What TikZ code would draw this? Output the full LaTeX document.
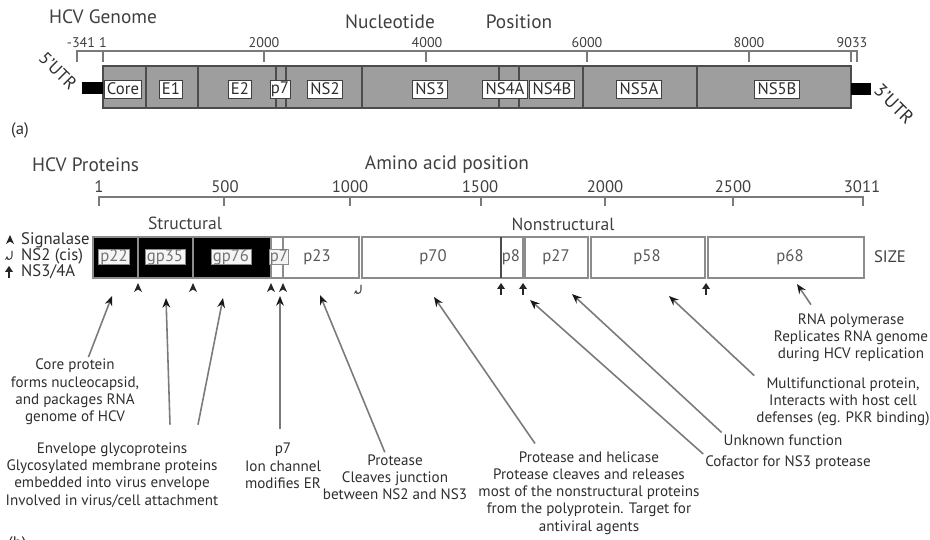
\documentclass[tikz,border=0pt]{standalone}
\usepackage{fontspec}
\setmainfont{PT Sans}
\usetikzlibrary{arrows.meta,calc}

\definecolor{bargray}{HTML}{9E9E9E}
\definecolor{inkgray}{HTML}{2E2E2E}
\definecolor{linegray}{HTML}{7A7A7A}

\begin{document}
\begin{tikzpicture}[x=0.02cm,y=-0.02cm,
    font=\fontsize{8.6}{9.8}\selectfont,text=inkgray,
    >={Stealth[length=5.5pt,width=4.4pt,color=black!90]},
    ptitle/.style={font=\fontsize{11}{13}\selectfont,text=black!75},
    subtitle/.style={font=\fontsize{10}{12}\selectfont,text=black!75},
    tickl/.style={font=\fontsize{8}{9}\selectfont,text=black!75},
    aatick/.style={font=\fontsize{9.5}{11}\selectfont,text=black!75},
    segname/.style={draw=black!75,fill=white,line width=0.5pt,inner xsep=1.5pt,
        inner ysep=0pt,minimum height=0.36cm,font=\fontsize{9.5}{11}\selectfont},
    protname/.style={draw=black!45,fill=black!4,text=black!55,inner xsep=1pt,
        inner ysep=0pt,minimum height=0.3cm,font=\fontsize{9.5}{11}\selectfont},
    plabel/.style={text=black!65,font=\fontsize{9.5}{11}\selectfont},
    structbox/.style={fill=black,draw=black!45,line width=0.7pt},
    nsbox/.style={fill=white,draw=black!45,line width=1pt},
    note/.style={align=center,inner sep=1pt},
    pointer/.style={->,draw=linegray,line width=0.9pt},
    sigmark/.pic={\fill[black!85] (0,-5) -- (4,4) -- (0,1.5) -- (-4,4) -- cycle;},
    ns3mark/.pic={\fill[black!85] (0,-6) -- (4,0) -- (-4,0) -- cycle;
        \draw[black!85,line width=1.1pt] (0,-1) -- (0,6);},
    cismark/.pic={\draw[black!70,line width=0.6pt,-{Stealth[length=2.2pt,width=2.4pt]}]
        (2,-5) -- (2,0) .. controls (2,4) and (-3,4) .. (-3,0);}]
    \useasboundingbox (0,0) rectangle (930,540);

    % Genome panel, titles and nucleotide scale.
    \node[ptitle,anchor=west] (gtitle) at (43,17) {HCV Genome};
    \node[ptitle] (gnuc) at (390,22) {Nucleotide};
    \node[ptitle] (gpos) at (519,22) {Position};
    \draw[linegray,line width=0.8pt] (77,62) -- (77,51) -- (857,51) -- (857,62);
    \draw[linegray,line width=0.8pt] (103,51) -- (103,62);
    \draw[linegray,line width=0.8pt] (264,51) -- (264,62);
    \draw[linegray,line width=0.8pt] (426,51) -- (426,62);
    \draw[linegray,line width=0.8pt] (587,51) -- (587,62);
    \draw[linegray,line width=0.8pt] (749,51) -- (749,62);
    \draw[linegray,line width=0.8pt] (851,51) -- (851,62);
    \node[tickl] (gt0) at (81,43) {-341};
    \node[tickl] (gt1) at (103,43) {1};
    \node[tickl] (gt2) at (264,43) {2000};
    \node[tickl] (gt4) at (427,43) {4000};
    \node[tickl] (gt6) at (587,43) {6000};
    \node[tickl] (gt8) at (749,43) {8000};
    \node[tickl] (gt9) at (852,43) {9033};

    % Genome bar with its UTR ends.
    \draw[draw=black!70,fill=bargray,line width=0.6pt] (103,66) rectangle (851,108);
    \draw[black!70,line width=0.6pt] (146,66) -- (146,108);
    \draw[black!70,line width=0.6pt] (198,66) -- (198,108);
    \draw[black!70,line width=0.6pt] (276,66) -- (276,108);
    \draw[black!70,line width=0.6pt] (286,66) -- (286,108);
    \draw[black!70,line width=0.6pt] (362,66) -- (362,108);
    \draw[black!70,line width=0.6pt] (499,66) -- (499,108);
    \draw[black!70,line width=0.6pt] (519,66) -- (519,108);
    \draw[black!70,line width=0.6pt] (583,66) -- (583,108);
    \draw[black!70,line width=0.6pt] (697,66) -- (697,108);
    \fill[black] (82,82) rectangle (103,94);
    \fill[black] (851,83) rectangle (871,95);
    \node[rotate=-45,font=\fontsize{10}{12}\selectfont] (utr5) at (58,71) {5'UTR};
    \node[rotate=-45,font=\fontsize{10.5}{12}\selectfont] (utr3) at (894,104) {3'UTR};

    \node[segname] (gcore) at (123,89) {Core};
    \node[segname] (ge1) at (171,89) {E1};
    \node[segname] (ge2) at (240,89) {E2};
    \node[segname,inner xsep=0.5pt] (gp7) at (280,89) {p7};
    \node[segname] (gns2) at (325,89) {NS2};
    \node[segname] (gns3) at (430,89) {NS3};
    \node[segname] (gns4a) at (505,89) {NS4A};
    \node[segname] (gns4b) at (552,89) {NS4B};
    \node[segname] (gns5a) at (639,89) {NS5A};
    \node[segname] (gns5b) at (777,89) {NS5B};
    \node[font=\fontsize{9.5}{11}\selectfont] (pa) at (20,130) {(a)};

    % Protein panel, titles and amino acid scale.
    \node[ptitle,anchor=west] (ptitle) at (26,165) {HCV Proteins};
    \node[ptitle] (paa) at (447,165) {Amino acid position};
    \draw[linegray,line width=0.8pt] (99,206) -- (99,197) -- (863,197) -- (863,206);
    \draw[linegray,line width=0.8pt] (224,197) -- (224,206);
    \draw[linegray,line width=0.8pt] (350,197) -- (350,206);
    \draw[linegray,line width=0.8pt] (481,197) -- (481,206);
    \draw[linegray,line width=0.8pt] (605,197) -- (605,206);
    \draw[linegray,line width=0.8pt] (733,197) -- (733,206);
    \node[aatick] (at1) at (99,187) {1};
    \node[aatick] (at5) at (225,187) {500};
    \node[aatick] (at10) at (350,187) {1000};
    \node[aatick] (at15) at (480,187) {1500};
    \node[aatick] (at20) at (605,187) {2000};
    \node[aatick] (at25) at (733,187) {2500};
    \node[aatick] (at30) at (862,187) {3011};
    \node[subtitle] (struct) at (185,223) {Structural};
    \node[subtitle] (nonstruct) at (563,224) {Nonstructural};

    % Polyprotein, structural and nonstructural parts.
    \draw[structbox] (93,237) rectangle (138,278);
    \draw[structbox] (138,237) rectangle (193,278);
    \draw[structbox] (193,237) rectangle (271,278);
    \draw[nsbox] (271,237) rectangle (283,278);
    \draw[nsbox] (283,237) rectangle (359,278);
    \draw[nsbox] (362,237) rectangle (501,278);
    \draw[nsbox] (501,237) rectangle (523,278);
    \draw[black!70,line width=1pt] (501,237) -- (501,278);
    \draw[nsbox] (525,237) rectangle (588,278);
    \draw[nsbox] (591,237) rectangle (705,278);
    \draw[nsbox] (708,237) rectangle (864,278);

    \node[protname] (pp22) at (114,257) {p22};
    \node[protname] (pgp35) at (165,257) {gp35};
    \node[protname] (pgp76) at (231,257) {gp76};
    \node[protname,inner xsep=0.3pt] (pp7) at (279,257) {p7};
    \node[plabel] (pp23) at (317,257) {p23};
    \node[plabel] (pp70) at (433,257) {p70};
    \node[plabel] (pp8) at (511,257) {p8};
    \node[plabel] (pp27) at (556,257) {p27};
    \node[plabel] (pp58) at (647,257) {p58};
    \node[plabel] (pp68) at (790,257) {p68};
    \node[plabel,text=black!75] (psize) at (890,257) {SIZE};

    % Legend of the cleaving enzymes.
    \pic at (10,240) {sigmark};
    \pic at (10,256) {cismark};
    \pic at (9,272) {ns3mark};
    \node[anchor=west,font=\fontsize{9.5}{11}\selectfont] (lsig) at (15,240) {Signalase};
    \node[anchor=west,font=\fontsize{9.5}{11}\selectfont] (lcis) at (15,256) {NS2 (cis)};
    \node[anchor=west,font=\fontsize{9.5}{11}\selectfont] (lns3) at (15,272) {NS3/4A};

    % Cleavage sites below the polyprotein.
    \pic at (138,288) {sigmark};
    \pic at (193,288) {sigmark};
    \pic at (271,288) {sigmark};
    \pic at (283,288) {sigmark};
    \pic at (359,290) {cismark};
    \pic at (501,289) {ns3mark};
    \pic at (523,289) {ns3mark};
    \pic at (706,289) {ns3mark};

    % Functions of the proteins.
    \node[note] (ncore) at (75,392) {Core protein\\forms nucleocapsid,\\and packages RNA\\genome of HCV};
    \node[note] (nenv) at (112,475) {Envelope glycoproteins\\Glycosylated membrane proteins\\embedded into virus envelope\\Involved in virus/cell attachment};
    \node[note] (np7) at (283,466) {p7\\Ion channel\\modifies ER};
    \node[note] (nprot) at (395,477) {Protease\\Cleaves junction\\between NS2 and NS3};
    \node[note] (nhel) at (589,493) {Protease and helicase\\Protease cleaves and releases\\most of the nonstructural proteins\\from the polyprotein. Target for\\antiviral agents};
    \node[note] (nunk) at (783,440) {Unknown function};
    \node[note] (ncof) at (788,463) {Cofactor for NS3 protease};
    \node[note] (nmult) at (843,402) {Multifunctional protein,\\Interacts with host cell\\defenses (eg. PKR binding)};
    \node[note] (nrna) at (851,338) {RNA polymerase\\Replicates RNA genome\\during HCV replication};
    \node[font=\fontsize{9.5}{11}\selectfont,anchor=north west] (pb) at (2,530) {(b)};

    \coordinate (tcore) at (112,296);
    \coordinate (tgp35) at (166,298);
    \coordinate (tgp76) at (223,298);
    \coordinate (tp7) at (280,296);
    \coordinate (tp23) at (320,295);
    \coordinate (tp70) at (434,297);
    \coordinate (tp8) at (530,300);
    \coordinate (tp27) at (572,294);
    \coordinate (tp58) at (669,296);
    \coordinate (tp68) at (797,284);

    \draw[pointer] (ncore) -- (tcore);
    \draw[pointer] ($(nenv.north)+(58,-16)$) -- (tgp35);
    \draw[pointer] ($(nenv.north)+(86,-16)$) -- (tgp76);
    \draw[pointer] ($(np7.north)+(-3,-12)$) -- (tp7);
    \draw[pointer] (nprot) -- (tp23);
    \draw[pointer] ($(nhel.north)+(-54,-6)$) -- (tp70);
    \draw[pointer] (ncof.north west) -- (tp8);
    \draw[pointer] (nunk.north west) -- (tp27);
    \draw[pointer] (nmult.north west) -- (tp58);
    \draw[pointer] ($(nrna.north)+(-40,-7)$) -- (tp68);
\end{tikzpicture}
\end{document}
